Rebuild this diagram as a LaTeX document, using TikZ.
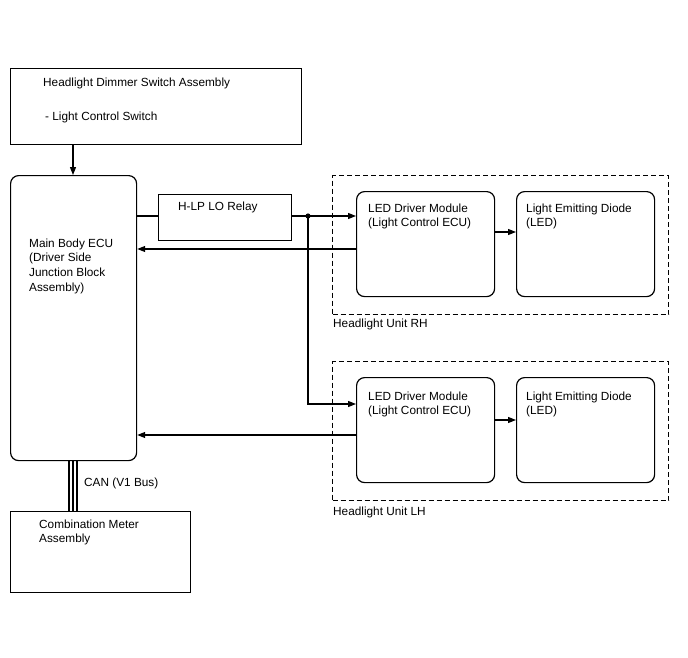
\documentclass[tikz,border=0pt]{standalone}
\usepackage{fontspec}
\setmainfont{Liberation Sans}
\usetikzlibrary{arrows.meta,positioning}
\tikzset{
  box/.style={draw, line width=1.2pt, anchor=north west, inner sep=0pt},
  rbox/.style={box, rounded corners=8pt},
  unit/.style={draw, line width=1.2pt, dash pattern=on 5pt off 3pt, anchor=north west, inner sep=0pt},
  txt/.style={anchor=north west, inner sep=0pt, align=left, font=\fontsize{11.8}{14}\selectfont},
  wire/.style={line width=1.2pt},
  arr/.style={wire, -{Triangle[length=8pt,width=6pt]}},
}
\begin{document}
\begin{tikzpicture}[x=1pt,y=-1pt]
\useasboundingbox (0,0) rectangle (688,658);
% boxes
\node[box, minimum width=291pt, minimum height=76pt] (dim) at (10,68) {};
\node[rbox, minimum width=126pt, minimum height=285pt] (ecu) at (10,175) {};
\node[box, minimum width=133pt, minimum height=46pt] (relay) at (158,194) {};
\node[unit, minimum width=336pt, minimum height=139pt] (rh) at (332,175) {};
\node[unit, minimum width=336pt, minimum height=139pt] (lh) at (332,361) {};
\node[rbox, minimum width=138pt, minimum height=105pt] (drvr) at (356,191) {};
\node[rbox, minimum width=138pt, minimum height=105pt] (ledr) at (516,191) {};
\node[rbox, minimum width=138pt, minimum height=105pt] (drvl) at (356,377) {};
\node[rbox, minimum width=138pt, minimum height=105pt] (ledl) at (516,377) {};
\node[box, minimum width=180pt, minimum height=81pt] (meter) at (10,511) {};
% texts
\node[txt] (tdim1) at (43,77.5) {Headlight Dimmer Switch Assembly};
\node[txt] (tdim2) at (45,111.5) {- Light Control Switch};
\node[txt, font=\fontsize{11.8}{14.6}\selectfont] (tecu) at (29,238.5) {Main Body ECU\\(Driver Side\\Junction Block\\Assembly)};
\node[txt] (trel) at (178,201.5) {H-LP LO Relay};
\node[txt] (tdrvr) at (368,203.5) {LED Driver Module\\(Light Control ECU)};
\node[txt] (tledr) at (526,203.5) {Light Emitting Diode\\(LED)};
\node[txt] (tdrvl) at (368,391.5) {LED Driver Module\\(Light Control ECU)};
\node[txt] (tledl) at (526,391.5) {Light Emitting Diode\\(LED)};
\node[txt] (trh) at (333,319) {Headlight Unit RH};
\node[txt] (tlh) at (333,506.5) {Headlight Unit LH};
\node[txt] (tmeter) at (39,520) {Combination Meter\\Assembly};
\node[txt] (tcan) at (84,477.5) {CAN (V1 Bus)};
% connectors
\coordinate (j) at (308,216);
\draw[arr] (dim.south -| 73,0) -- (ecu.north -| 73,0);
\draw[wire] (ecu.east |- j) -- (relay.west |- j);
\draw[arr] (relay.east |- j) -- (drvr.west |- j);
\fill (j) circle (2.6pt);
\draw[arr] (j) -- (308,404) -- (drvl.west |- 0,404);
\draw[arr] (drvr.west |- 0,249) -- (ecu.east |- 0,249);
\draw[arr] (drvl.west |- 0,435) -- (ecu.east |- 0,435);
\draw[arr] (drvr.east |- 0,232) -- (ledr.west |- 0,232);
\draw[arr] (drvl.east |- 0,420) -- (ledl.west |- 0,420);
% CAN bus
\foreach \cx in {69,73,77}
  \draw[line width=1.1pt] (ecu.south -| \cx,0) -- (meter.north -| \cx,0);
\end{tikzpicture}
\end{document}
